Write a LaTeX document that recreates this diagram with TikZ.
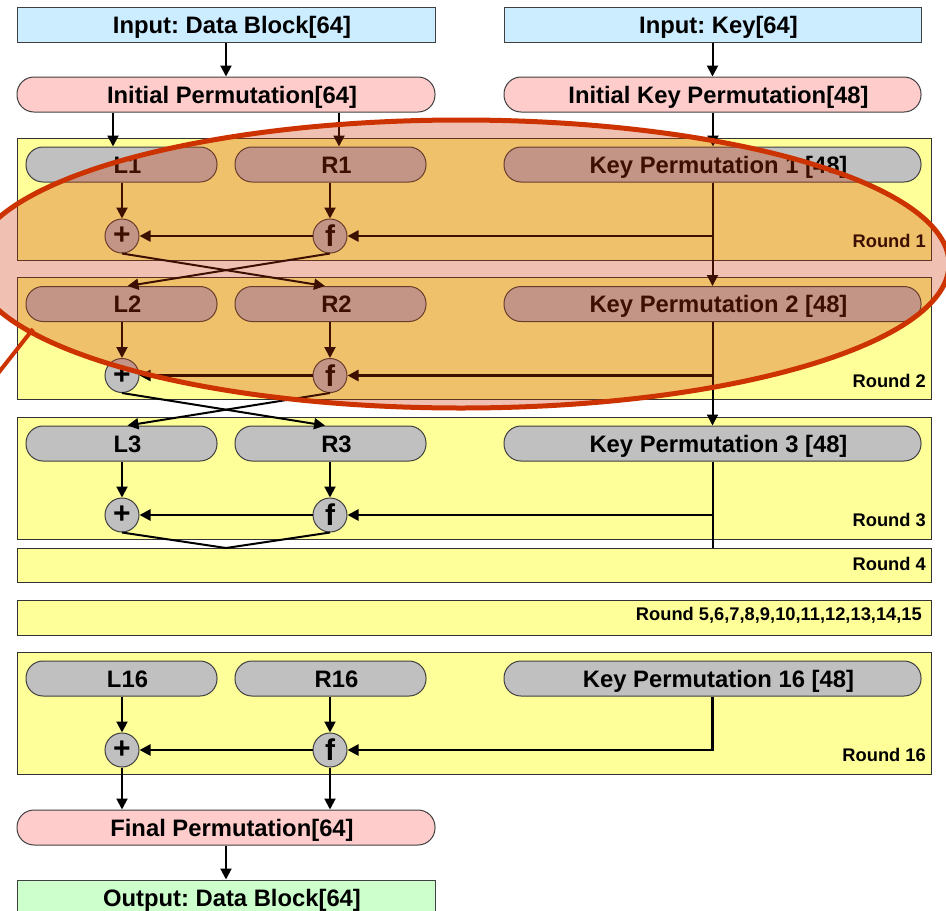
\documentclass[tikz,border=0pt]{standalone}
\usepackage{fontspec}
\setmainfont{Liberation Sans}
\usetikzlibrary{arrows.meta,calc}
\definecolor{inblue}{HTML}{CCECFF}
\definecolor{permpink}{HTML}{FFCCCC}
\definecolor{outgreen}{HTML}{CCFFCC}
\definecolor{roundyellow}{HTML}{FFFF99}
\definecolor{cellgray}{HTML}{C0C0C0}
\definecolor{marker}{HTML}{CC3300}
\frenchspacing
\begin{document}
\begin{tikzpicture}[x=1pt,y=-1pt,
  font=\bfseries\fontsize{23.8}{28}\selectfont,
  box/.style={draw=black!75, line width=1pt, minimum height=35pt, inner sep=0pt,
    text height=17pt, text depth=0pt,
    execute at begin node=\hspace*{12pt}},
  io/.style={box, minimum width=418pt},
  perm/.style={box, rounded corners=17pt, minimum width=418pt, fill=permpink},
  half/.style={box, rounded corners=17pt, minimum width=191pt, fill=cellgray},
  keyp/.style={box, rounded corners=17pt, minimum width=417pt, fill=cellgray},
  op/.style={circle, draw=black!75, line width=1pt, fill=cellgray, minimum size=34pt, inner sep=0pt,
    font=\bfseries\fontsize{30}{30}\selectfont},
  roundbox/.style={draw=black!80, line width=1pt, fill=roundyellow, minimum width=914pt, inner sep=0pt},
  roundlbl/.style={anchor=east, inner sep=0pt, font=\bfseries\fontsize{18.3}{22}\selectfont},
  flow/.style={line width=2pt, -{Triangle[length=11pt,width=11pt]}},
  wire/.style={line width=2pt},
  keywire/.style={line width=2.5pt, -{Triangle[length=11pt,width=11pt]}},
  highlight/.style={draw=marker, line width=5pt, fill=marker, fill opacity=0.3, draw opacity=1},
  pointer/.style={draw=marker, line width=4pt}
]
\clip (0,0) rectangle (946,911);

% inputs and initial permutations
\node[io, fill=inblue] (inD) at (226,24.5) {Input: Data Block[64]};
\node[io, fill=inblue, minimum width=417pt] (inK) at (712.5,24.5) {Input: Key[64]};
\node[perm] (IP) at (226,94.5) {Initial Permutation[64]};
\node[perm, minimum width=417pt] (IKP) at (712.5,94.5) {Initial Key Permutation[48]};

% collapsed rounds
\node[roundbox, minimum height=34pt] (rd4) at (474,565) {};
\node[roundlbl] (lbl4) at (926,564) {Round 4};
\node[roundbox, minimum height=35pt] (rd5) at (474,617.5) {};
\node[roundlbl] (lbl5) at (922,615) {Round 5,6,7,8,9,10,11,12,13,14,15};

% expanded rounds
\foreach \k/\dy in {1/0,2/139.5,3/279,16/514}{
  \node[roundbox, minimum height=122pt] (rd\k) at (474,199+\dy) {};
  \node[roundlbl] (lbl\k) at (926,241+\dy) {Round \k};
  \node[half] (L\k) at (121.5,164.5+\dy) {L\k};
  \node[half] (R\k) at (330.5,164.5+\dy) {R\k};
  \node[keyp] (K\k) at (712.5,164.5+\dy) {Key Permutation \k\ [48]};
  \node[op] (p\k) at (122,236+\dy) {+};
  \node[op] (f\k) at (330,236+\dy) {f};
  \draw[flow] (L\k.south -| p\k.north) -- (p\k.north);
  \draw[flow] (R\k.south -| f\k.north) -- (f\k.north);
  \draw[keywire] (f\k.west) -- (p\k.east);
}

% final permutation and output
\node[perm] (FP) at (226,827.5) {Final Permutation[64]};
\node[io, fill=outgreen] (out) at (226,897.5) {Output: Data Block[64]};

% data path into round 1
\coordinate (colL) at (113,0);
\coordinate (colR) at (339,0);
\draw[flow] (inD) -- (IP);
\draw[flow] (inK) -- (IKP);
\draw[flow] (colL |- IP.south) -- (colL |- L1.north);
\draw[flow] (colR |- IP.south) -- (colR |- R1.north);
\draw[flow] (IKP.south -| 713,0) -- (K1.north -| 713,0);

% key schedule
\foreach \k in {1,2,3}{
  \draw[keywire] (K\k.south |- f\k.east) -- (f\k.east);
}
\draw[flow] (K1.south) -- (K2.north);
\draw[flow] (K2.south) -- (K3.north);
\draw[wire] (K3.south) -- (K3.south |- rd4.north);
\draw[keywire] (K16.south) |- (f16.east);

% Feistel swaps
\draw[flow] (p1.south) -- ($(R2.north)+(-5.5,0)$);
\draw[flow] (f1.south) -- ($(L2.north)+(6,0)$);
\draw[flow] (p2.south) -- ($(R3.north)+(-5.5,0)$);
\draw[flow] (f2.south) -- ($(L3.north)+(6,0)$);
\coordinate (merge) at (226,548);
\draw[wire] (p3.south) -- (merge) -- (f3.south);

% last round to output
\draw[flow] (p16.south) -- (p16.south |- FP.north);
\draw[flow] (f16.south) -- (f16.south |- FP.north);
\draw[flow] (FP) -- (out);

% highlight of the first two rounds
\path[highlight] (461,264) ellipse [x radius=488pt, y radius=144pt];
\coordinate (tailA) at (33,329);
\coordinate (tailB) at (-8,381);
\draw[pointer] (tailA) -- (tailB);
\end{tikzpicture}
\end{document}
